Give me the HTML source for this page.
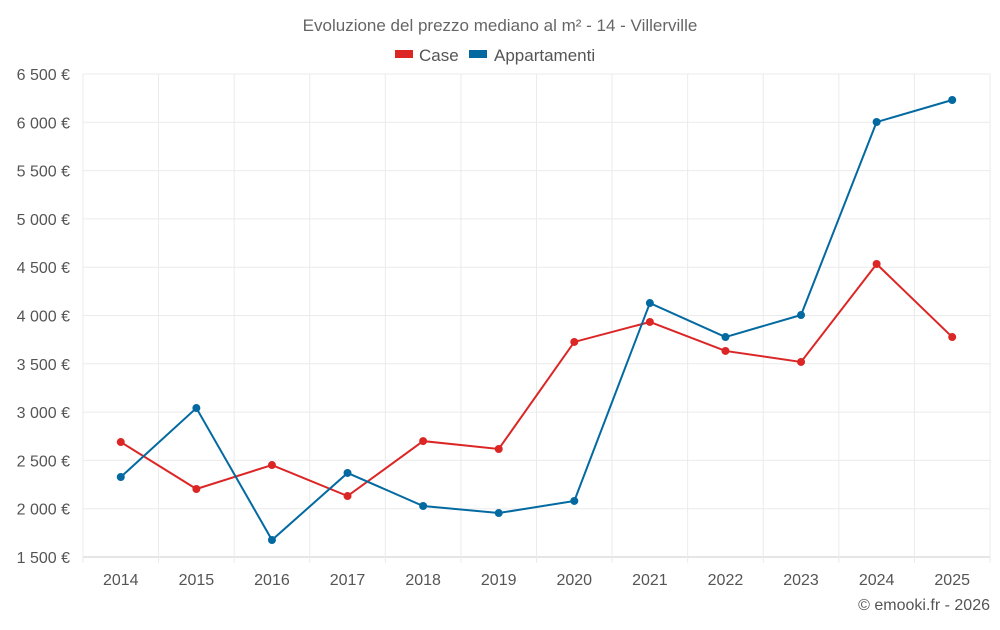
<!DOCTYPE html>
<html><head><meta charset="utf-8"><style>
body{margin:0;background:#fff;font-family:"Liberation Sans",sans-serif}
svg text{font-family:"Liberation Sans",sans-serif}
</style></head><body>
<svg id="chart" width="1000" height="625" viewBox="0 0 1000 625" xmlns="http://www.w3.org/2000/svg">
<rect width="1000" height="625" fill="#fff"/>
<text x="500" y="31" text-anchor="middle" font-size="17" fill="#666">Evoluzione del prezzo mediano al m² - 14 - Villerville</text>
<g>
<g><rect x="395" y="50" width="18" height="8" fill="#dc2626"/><text x="419" y="61" font-size="17" fill="#555">Case</text></g>
<g><rect x="469" y="50" width="18" height="8" fill="#0369a1"/><text x="494" y="61" font-size="17" fill="#555">Appartamenti</text></g>
</g>
<g id="grid"></g><g id="axes"></g><g id="series"></g>
<text x="990" y="610" text-anchor="end" font-size="16" fill="#555">© emooki.fr - 2026</text>
</svg>
<script>
const years=[2014,2015,2016,2017,2018,2019,2020,2021,2022,2023,2024,2025];
const caseVals=[2690,2204,2452,2131,2700,2618,3726,3933,3633,3519,4533,3777];
const appVals=[2328,3042,1676,2370,2028,1955,2080,4129,3777,4005,6003,6231];
const yTicks=[1500,2000,2500,3000,3500,4000,4500,5000,5500,6000,6500];
const yTickLabels=["1 500 €","2 000 €","2 500 €","3 000 €","3 500 €","4 000 €","4 500 €","5 000 €","5 500 €","6 000 €","6 500 €"];
const L=83,R=990,T=74,B=557,yMin=1500,yMax=6500;
const band=(R-L)/years.length;
const x=i=>L+band*(i+0.5);
const y=v=>B-(v-yMin)/(yMax-yMin)*(B-T);
const NS="http://www.w3.org/2000/svg";
function mk(tag,attrs,parent){const e=document.createElementNS(NS,tag);for(const k in attrs)e.setAttribute(k,attrs[k]);parent.appendChild(e);return e;}
const grid=document.getElementById('grid'),axes=document.getElementById('axes'),ser=document.getElementById('series');
yTicks.forEach((t,i)=>{
 const l=mk('line',{x1:L,x2:R,y1:y(t),y2:y(t),stroke:i==0?'#ccc':'#ebebeb'},grid);
 
 
 const tx=mk('text',{x:70,y:y(t)+6,'text-anchor':'end','font-size':16,fill:'#555'},axes);
 tx.textContent=yTickLabels[i];
 
 
});
for(let i=0;i<=years.length;i++){
 const gx=L+band*i;
 const l=mk('line',{x1:gx,x2:gx,y1:T,y2:B+(i<years.length+1?6:0),stroke:'#ebebeb'},grid);
 
 
}
years.forEach((yr,i)=>{
 const tx=mk('text',{x:x(i),y:585,'text-anchor':'middle','font-size':16,fill:'#555'},axes);
 tx.textContent=yr;
 
 
});
function draw(vals,color,name){
 const p=mk('polyline',{points:vals.map((v,i)=>x(i)+','+y(v)).join(' '),fill:'none',stroke:color,'stroke-width':2},ser);
 
 
 vals.forEach((v,i)=>{
  const c=mk('circle',{cx:x(i),cy:y(v),r:4,fill:color},ser);
  
  
 });
}
draw(caseVals,'#dc2626','case');
draw(appVals,'#0369a1','appartamenti');
</script>
</body></html>
